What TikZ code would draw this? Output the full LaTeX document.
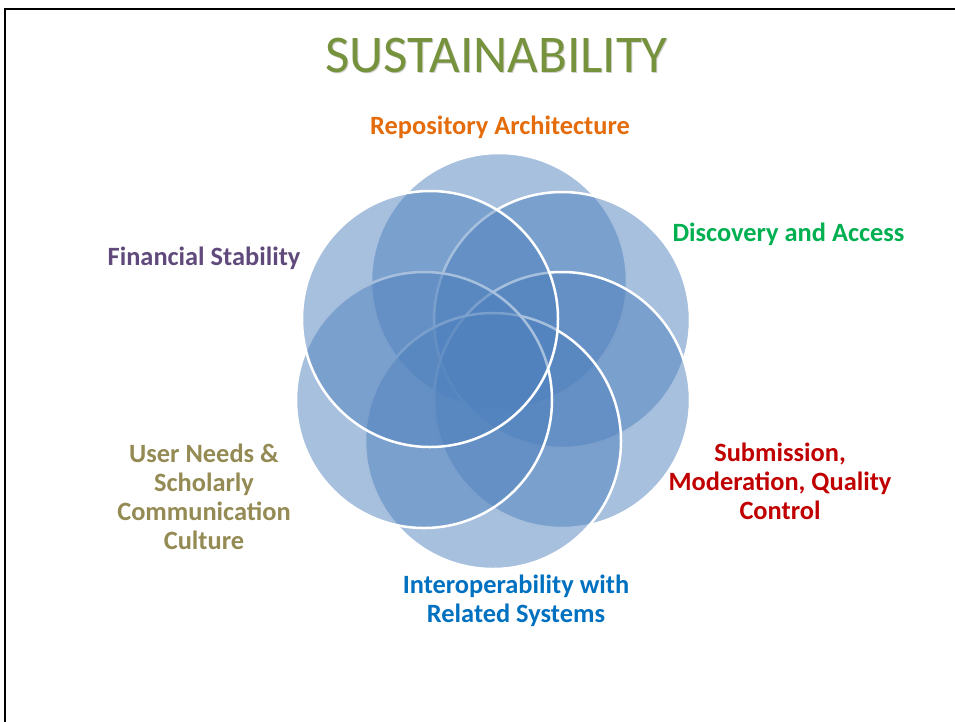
\documentclass[tikz,border=0pt]{standalone}
\usepackage{fontspec}
\setmainfont{Carlito}
\definecolor{venn}{HTML}{4F81BD}
\definecolor{titlegreen}{HTML}{76923C}
\definecolor{lorange}{HTML}{E46C0A}
\definecolor{lgreen}{HTML}{00B050}
\definecolor{lpurple}{HTML}{604A7B}
\definecolor{lred}{HTML}{C00000}
\definecolor{lblue}{HTML}{0070C0}
\definecolor{lolive}{HTML}{948A54}
\begin{document}
\begin{tikzpicture}[x=1pt,y=-1pt,
  venncircle/.style={circle, minimum size=256pt, inner sep=0pt, fill=venn, fill opacity=0.5, draw=white, line width=2.5pt},
  lbl/.style={font=\fontsize{26.4}{29}\selectfont\bfseries, align=center, anchor=base, inner sep=0pt},
  titletext/.style={font=\fontsize{53}{60}\selectfont, anchor=base, inner sep=0pt}]
\useasboundingbox (0,0) rectangle (955,721);
\draw[line width=2.5pt] (960,9) -- (5,9) -- (5,726);
% title
\node[titletext, text=black!40, opacity=0.45] (titleshadow) at (497.5,73.5) {SUSTAINABILITY};
\node[titletext, text=titlegreen] (title) at (496.5,72) {SUSTAINABILITY};
% circles
\node[venncircle] (repo) at (499,281) {};
\node[venncircle] (disc) at (562,320) {};
\node[venncircle] (subm) at (562,400) {};
\node[venncircle] (inter) at (493,441) {};
\node[venncircle] (user) at (424,400) {};
\node[venncircle] (fin) at (430,319) {};
% labels (multi-line nodes: base = last line's baseline)
\node[lbl, text=lorange] (lrepo) at (500,134) {Repository Architecture};
\node[lbl, text=lgreen] (ldisc) at (788.5,241) {Discovery and Access};
\node[lbl, text=lpurple] (lfin) at (204,265) {Financial Stability};
\node[lbl, text=lred] (lsubm) at (780,519) {Submission,\\Moderation, Quality\\Control};
\node[lbl, text=lblue] (linter) at (516,622) {Interoperability with\\Related Systems};
\node[lbl, text=lolive] (luser) at (204,549) {User Needs \&\\Scholarly\\Communication\\Culture};
\end{tikzpicture}
\end{document}
